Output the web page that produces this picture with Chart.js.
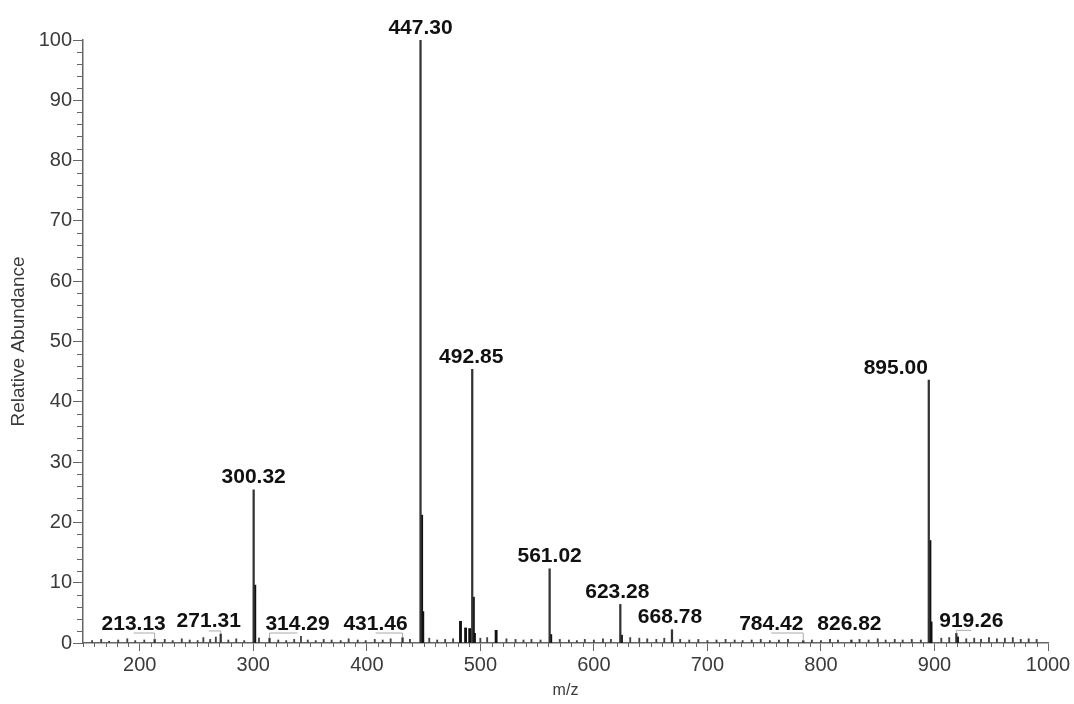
<!DOCTYPE html>
<html>
<head>
<meta charset="utf-8">
<script src="https://cdn.jsdelivr.net/npm/chart.js@4/dist/chart.umd.min.js"></script>
<style>
  html,body{margin:0;padding:0;background:#fff;}
  #wrap{width:1074px;height:704px;position:relative;}
</style>
</head>
<body>
<div id="wrap"><canvas id="ms"></canvas></div>
<script>
// labelled peaks (m/z, relative abundance)
const labelMz  = [213.13, 271.31, 300.32, 314.29, 431.46, 447.30, 492.85, 561.02, 623.28, 668.78, 784.42, 826.82, 895.00, 919.26];
const labelInt = [0.6,    1.5,    25.4,   0.8,    0.9,    100,    45.4,   12.3,   6.4,    2.2,    0.4,    0.5,    43.6,   1.6];
const labelTxt = ["213.13","271.31","300.32","314.29","431.46","447.30","492.85","561.02","623.28","668.78","784.42","826.82","895.00","919.26"];
const labelShift = [-21, -12, 0, 28, -27, 0, -1, 0, -3, -2, -32, -2, -33, 15];

// isotope / side peaks
const sideMz  = [301.32, 448.30, 449.30, 482.5, 487.0, 490.6, 493.85, 494.8, 513.9, 562.0, 624.3, 896.0, 897.0, 920.3];
const sideInt = [9.6,    21.2,   5.2,    3.6,   2.5,   2.4,   7.6,    1.6,   2.1,   1.4,   1.3,   17.0,  3.5,   1.0];

// baseline noise
const noiseMz  = [158,166,173,181,189,196,204,222,229,237,244,251,256,262,267,278,285,292,305,322,329,336,342,348,355,362,369,377,384,392,399,407,414,421,438,455,462,469,476,500,506,523,531,538,545,553,570,578,585,592,600,608,615,632,640,647,655,662,676,684,692,700,708,716,724,731,739,747,755,763,771,792,800,808,815,834,842,850,857,865,872,880,888,906,913,928,935,941,948,955,962,969,976,983,990];
const noiseInt = [0.4,0.6,0.3,0.5,0.7,0.4,0.5,0.6,0.4,0.7,0.5,0.4,0.9,0.6,1.0,0.5,0.7,0.4,0.8,0.5,0.4,0.6,1.1,0.5,0.4,0.6,0.5,0.4,0.7,0.5,0.4,0.6,0.5,0.7,0.6,0.8,0.5,0.6,0.7,0.8,0.9,0.7,0.6,0.5,0.6,0.5,0.6,0.5,0.4,0.6,0.5,0.7,0.6,0.9,0.8,0.7,0.6,0.8,0.6,0.5,0.6,0.4,0.5,0.6,0.5,0.4,0.5,0.6,0.4,0.5,0.6,0.5,0.4,0.6,0.5,0.6,0.5,0.7,0.5,0.6,0.5,0.6,0.5,0.8,0.9,0.7,0.8,0.6,0.9,0.7,0.8,0.9,0.6,0.7,0.6];

const xTicks = [200, 300, 400, 500, 600, 700, 800, 900, 1000];
const yTicks = [0, 10, 20, 30, 40, 50, 60, 70, 80, 90, 100];
const X_MIN = 150, X_MAX = 1000, X_MINOR = 10, Y_MINOR = 2;

const FONT = "'Liberation Sans', Arial, sans-serif";
const AXIS = "#666";
const STICK = "#333";
const TXT = "#3a3a3a";

const toPts = (xs, ys) => xs.map((v, i) => ({ x: v, y: ys[i] }));

const decor = {
  id: "decor",
  afterDraw(chart) {
    const { ctx, scales: { x, y } } = chart;
    const y0 = y.getPixelForValue(0);
    ctx.save();
    // minor ticks
    ctx.strokeStyle = AXIS; ctx.lineWidth = 1;
    ctx.beginPath();
    for (let v = X_MIN; v <= X_MAX; v += X_MINOR) {
      if (v % 100 === 0) continue;
      const px = Math.round(x.getPixelForValue(v)) + 0.5;
      ctx.moveTo(px, y0); ctx.lineTo(px, y0 + 4);
    }
    for (let v = Y_MINOR; v < 100; v += Y_MINOR) {
      if (v % 10 === 0) continue;
      const py = Math.round(y.getPixelForValue(v)) + 0.5;
      ctx.moveTo(x.left, py); ctx.lineTo(x.left - 6, py);
    }
    ctx.stroke();

    // peak labels
    ctx.font = "bold 21px " + FONT;
    ctx.textAlign = "center";
    ctx.textBaseline = "alphabetic";
    labelMz.forEach((m, i) => {
      const px = x.getPixelForValue(m);
      const top = y.getPixelForValue(labelInt[i]);
      const base = Math.min(top, y0 - 7) - 6.5;
      const cx = px + labelShift[i];
      if (Math.abs(labelShift[i]) > 8 && top > y0 - 20) {
        ctx.strokeStyle = "#aaa"; ctx.lineWidth = 1;
        ctx.beginPath();
        ctx.moveTo(cx, base + 3.5);
        ctx.lineTo(px, base + 3.5);
        ctx.lineTo(px, top);
        ctx.stroke();
      }
      ctx.fillStyle = "#111";
      ctx.fillText(labelTxt[i], cx, base);
    });
    ctx.restore();
  }
};

const stickStyle = { backgroundColor: STICK, borderWidth: 0, barThickness: 1.6, grouped: false };

new Chart(document.getElementById("ms"), {
  type: "bar",
  data: {
    datasets: [
      Object.assign({ label: "peaks", data: toPts(labelMz, labelInt) }, stickStyle),
      Object.assign({ label: "side", data: toPts(sideMz, sideInt) }, stickStyle, { barThickness: 2.2, backgroundColor: "#111" }),
      Object.assign({ label: "noise", data: toPts(noiseMz, noiseInt) }, stickStyle, { barThickness: 1.2, backgroundColor: "#444" })
    ]
  },
  options: {
    responsive: true,
    maintainAspectRatio: false,
    animation: false,
    layout: { padding: { top: 40, right: 26, left: 0, bottom: 0 } },
    plugins: { legend: { display: false }, tooltip: { enabled: false } },
    scales: {
      x: {
        type: "linear", min: X_MIN, max: X_MAX, offset: false,
        afterBuildTicks: s => { s.ticks = xTicks.map(v => ({ value: v })); },
        afterFit: s => { s.height = 61; },
        grid: { offset: false, drawOnChartArea: false, drawTicks: true, tickLength: 8, tickColor: AXIS },
        border: { color: AXIS, width: 1.5 },
        ticks: { color: TXT, font: { family: FONT, size: 20 }, padding: 2, maxRotation: 0, autoSkip: false, callback: v => String(v) },
        title: { display: true, text: "m/z", color: TXT, font: { family: FONT, size: 16 }, padding: { top: 0, bottom: 4 } }
      },
      y: {
        min: 0, max: 100,
        afterBuildTicks: s => { s.ticks = yTicks.map(v => ({ value: v })); },
        afterFit: s => { s.width = 83; },
        grid: { drawOnChartArea: false, drawTicks: true, tickLength: 10, tickColor: AXIS },
        border: { color: AXIS, width: 1.5 },
        ticks: { color: TXT, font: { family: FONT, size: 20 }, padding: 1, callback: v => String(v) },
        title: { display: true, text: "Relative Abundance", color: TXT, font: { family: FONT, size: 19 }, padding: { top: 7, bottom: 0 } }
      }
    }
  },
  plugins: [decor]
});
</script>
</body>
</html>
